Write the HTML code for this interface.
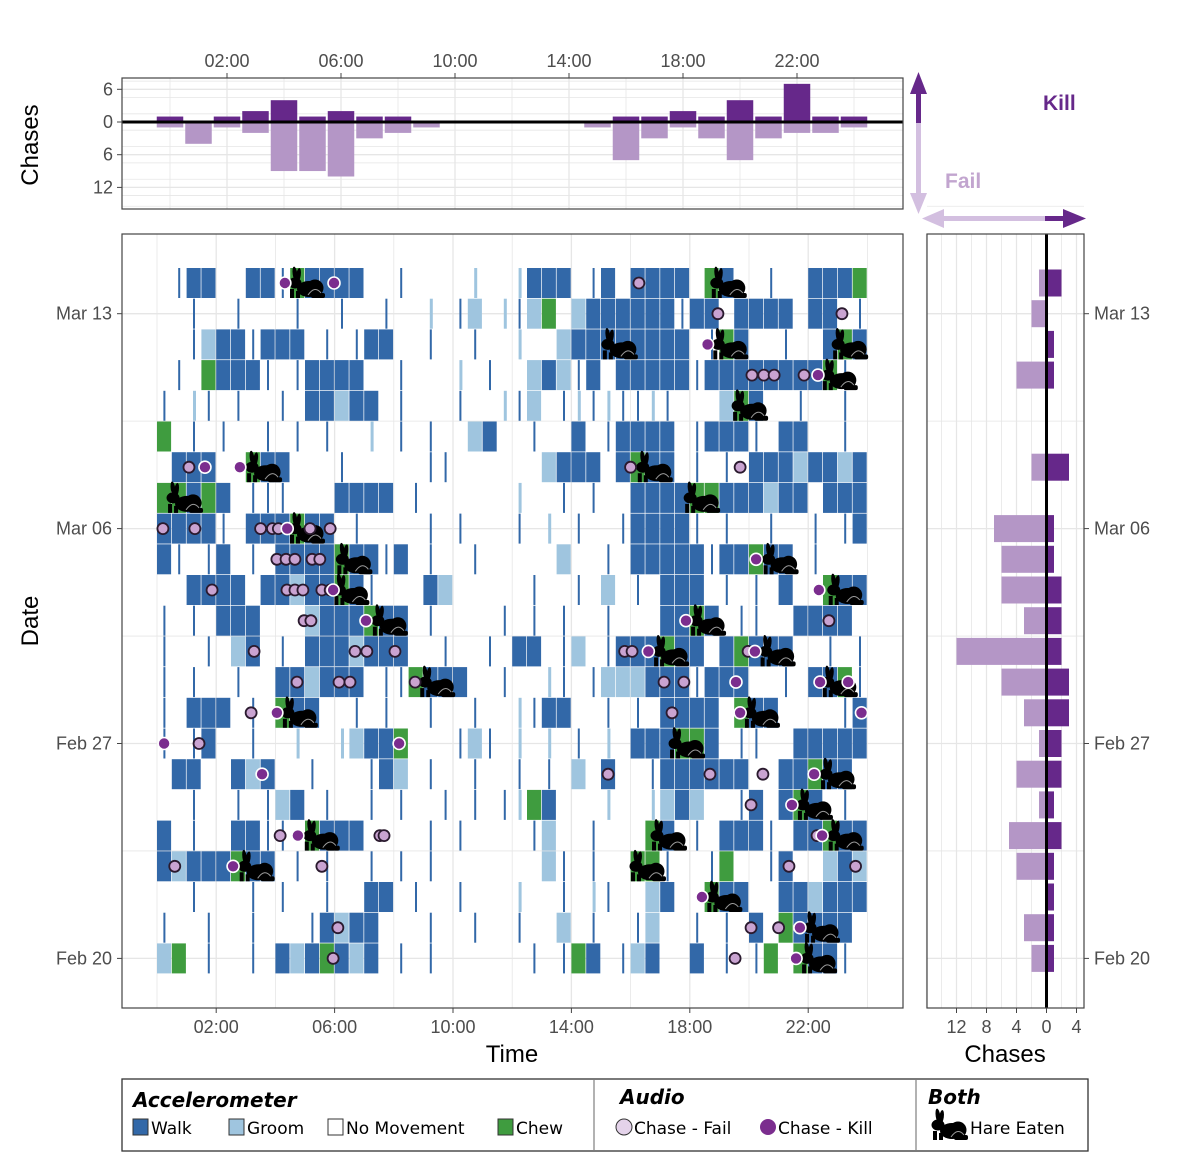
<!DOCTYPE html>
<html><head><meta charset="utf-8">
<style>
body{margin:0;background:#fff;}
svg{display:block;font-family:"Liberation Sans",sans-serif;}
.tk{font-size:18px;fill:#4d4d4d;}
</style></head>
<body>
<svg id="c" width="1200" height="1172" viewBox="0 0 1200 1172" xmlns="http://www.w3.org/2000/svg">
<defs>
<g id="rabbit">
<ellipse cx="4" cy="6" rx="12" ry="8" fill="#000"/>
<circle cx="10" cy="5" r="8.5" fill="#000"/>
<ellipse cx="-10" cy="0" rx="6.5" ry="5.5" fill="#000"/>
<ellipse cx="-10" cy="-9" rx="2.3" ry="7.5" fill="#000" transform="rotate(-8 -10 -9)"/>
<ellipse cx="-6.5" cy="-8" rx="2.3" ry="7" fill="#000" transform="rotate(8 -6.5 -8)"/>
<rect x="-15" y="6" width="4" height="9" fill="#000"/>
<rect x="-9" y="8" width="4" height="7" fill="#000"/>
<rect x="6" y="10" width="14" height="5" rx="2" fill="#000"/>
<path d="M3 12 Q10 2 16 10" stroke="#9a9a9a" stroke-width="1" fill="none"/>
</g>
</defs>
<g id="grid"></g>
<g id="marks"></g>
<g id="overlay"></g>
</svg>
<script>
// ---------- DATA ----------
const dayLabels = ["Mar 13","Mar 06","Feb 27","Feb 20"];
const dayLabelRows = [1,8,15,22];
const hourTicks = [2,6,10,14,18,22];
const hourTickLabels = ["02:00","06:00","10:00","14:00","18:00","22:00"];
// activity per day row (Mar 14 .. Feb 20), 48 half-hour slots: W walk, G groom, C chew, . none, | thin walk, : thin groom
const activity = [
".|WW..WW |CWWWW.. |....:.. :WWW.|W. WWWW.CW. .|..WWWC",
"..|..|.. .|..|..| ..:.|G.: |GC.GWWW WWW|WW.W WWW.WW.|",
"..|GWW|W WW.|.|WW ..|..|.. :..GWWWW WWWW.|CW ..|..WCW",
".|.CWWW| .|WWWW.. |...:.|. .GWG|W.W WWWW|WWW WWWWWC|.",
"|.:|.|.. |.WWGWW. |...|..: |G.|:|:| |:|...GC W..|..|.",
"C.|.|..| .|.|..:. |.|..GW. .|..W.|W WWW.|WWW |.WW..|.",
".WWW..CW W...|... ..||.... ..GWWW.W CWW.|.|. WWWGWWGW",
"CCWCW.|| |...WWWW .|...... :..|.|.. WWWWCCWW WGWW.WWW",
"WWWW|.WW WCWW.|.. ..|.|... |.:.|..| WWWW|.|. .|..|.|W",
"W|.|W.|. WWWWCWW| W.|..|.. ...G..|. WWWWW|WW CWW.|...",
"..WWWW.W WGWWCW|. ..WG.... .|..|.G. |.WWW.|. |.W..CWW",
"|.|.WWW. ..GWWWCW W.|....| .|.|..|. ..WWCW.| |..WWWW.",
"|..|.GW. |.WWWGWW W..|..|. WW.|G.|W WWCWW.WC WWW..|.|",
"|.|..|.. WWGWWW.| |CWWW..| ..:|.|GG GWWW|WWW ..|.WWC|",
"|.WWW.|. CWW..|.| ..|..|.. :|WW..|. |.WWWW.C WW....|W",
"|.|W..|. .:..:GWW C...|G|. :.:.|.:. WWWCCW.| |..WWWWW",
".WW..WGW ..|...|W G.|..|.. |.|.G.W. .|WWWWWW ..WWCWW.",
"..|..|.| GW.|..|. |..|.|.| :CW...:. .:GWG..| W.WCW.|.",
"W.|..WW| |.CWWW.. ..|.|... .|G..|.. .CW.|.WW W|.WWCWW",
"WGWWWCWW .|.|..|. |.|..... ..G|.|.. CC|..|C. .|W..GWG",
"..|...|. |..|..WW .|..|... :..|.:|. .GW..CWW ..WWGWWW",
"|..|..|. ..|WGWW. ..|..|.. |..G.|.. |G..|.|. W.CWWWW.",
"GC.|..|. WGWCWGW. |.|..... .|.|CW.| GW..W.|. |C.CWW|."
];
// top histogram: chases per hour bin (0..24)
const binHours = [0,1,2,3,4,5,6,7,8,9,10,11,12,13,14,15,16,17,18,19,20,21,22,23,24];
const killsByHour = [1,0,1,2,4,1,2,1,1,0,0,0,0,0,0,0,1,1,2,1,4,1,7,1,1];
const failsByHour = [1,4,1,2,9,9,10,3,2,1,0,0,0,0,0,1,7,3,1,3,7,3,2,2,1];
// right histogram: chases per day row (Mar 14 .. Feb 20)
const killsByDay = [2,0,1,1,0,0,3,0,1,1,2,2,2,3,3,2,2,1,2,1,1,1,1];
const failsByDay = [1,2,0,4,0,0,2,0,7,6,6,3,12,6,3,1,4,1,5,4,0,3,2];
const chaseAxisTicks = [-12,-8,-4,0,4];
const chaseAxisLabels = ["12","8","4","0","4"];
const topAxisTicks = [6,0,-6,-12];
const topAxisLabels = ["6","0","6","12"];
// audio events [dayRow, hour]
const failEvents = [[0,16.28],[1,18.95],[1,23.14],[3,20.1],[3,20.5],[3,20.85],[3,21.86],
[6,1.08],[6,16.0],[6,19.7],[8,0.2],[8,1.28],[8,3.5],[8,3.9],[8,4.1],[8,5.17],[8,5.85],
[9,4.05],[9,4.36],[9,4.66],[9,5.24],[9,5.5],[10,1.86],[10,4.39],[10,4.66],[10,4.93],[10,5.57],[10,5.85],
[11,4.97],[11,5.2],[11,22.7],[12,3.28],[12,6.69],[12,7.09],[12,8.04],[12,15.8],[12,16.05],[12,19.97],
[13,4.73],[13,6.15],[13,6.52],[13,8.72],[13,17.13],[13,17.8],[14,3.18],[14,17.4],[15,1.42],
[16,15.24],[16,18.68],[16,20.47],[17,20.07],[18,4.16],[18,7.53],[18,7.67],[18,22.3],
[19,0.6],[19,5.57],[19,21.35],[19,23.6],[21,6.11],[21,20.07],[21,21.0],[22,5.95],[22,19.53]];
const killEvents = [[0,4.32],[0,5.98],[2,18.6],[3,22.33],[6,1.62],[6,2.8],[8,4.4],[9,20.24],[10,5.95],[10,22.36],
[11,7.06],[11,17.87],[12,16.6],[12,20.2],[13,19.56],[13,22.4],[13,23.35],[14,4.05],[14,19.7],[14,23.8],
[15,0.24],[15,8.18],[16,3.55],[16,22.2],[17,21.45],[18,4.76],[18,22.47],[19,2.57],[20,18.41],[21,21.72],[22,21.59]];
const hareEvents = [[0,5.0],[0,19.25],[2,15.57],[2,19.3],[2,23.35],[3,23.0],[4,19.97],[6,3.55],[6,16.75],
[7,0.88],[7,18.35],[8,5.0],[9,6.6],[9,21.0],[10,6.5],[10,23.2],[11,7.8],[11,18.55],[12,17.3],[12,20.9],
[13,9.4],[13,23.0],[14,4.76],[14,20.37],[15,17.84],[16,22.94],[17,22.16],[18,5.5],[18,17.23],[18,23.2],
[19,3.3],[19,16.52],[20,19.1],[21,22.4],[22,22.3]];

// ---------- SCALES ----------
const hourX = h => 157 + h * 29.6;
const rowY = i => 283 + i * 30.7;
const topX = h => 170 + h * 28.5;
const topY = v => 122 - v * 5.45;
const rightX = v => 1046.5 + v * 7.5;
const COL = {W:"#3268a8", G:"#9fc5df", C:"#3f9c3f"};
const KILL = "#66288a", FAILBAR = "#b496c6";

const NS = "http://www.w3.org/2000/svg";
const svg = document.getElementById("c");
const gGrid = document.getElementById("grid");
const gMarks = document.getElementById("marks");
const gOver = document.getElementById("overlay");
function mk(tag, attrs, parent, txt){
  const e = document.createElementNS(NS, tag);
  for (const k in attrs) e.setAttribute(k, attrs[k]);
  if (txt !== undefined) e.textContent = txt;
  (parent || svg).appendChild(e);
  return e;
}
let e;

// ---------- PANELS ----------
e = mk("rect",{x:122,y:78,width:781,height:131,fill:"#fff"},gGrid);


e = mk("rect",{x:122,y:234,width:781,height:774,fill:"#fff"},gGrid);


e = mk("rect",{x:927,y:234,width:157,height:774,fill:"#fff"},gGrid);



// grid lines
const GC = "#e6e6e6";
for (let h = 0; h <= 24; h += 2) {
  mk("line",{x1:hourX(h),x2:hourX(h),y1:234,y2:1008,stroke:GC,"stroke-width":h%4==2?1.3:0.8},gGrid);
  mk("line",{x1:topX(h),x2:topX(h),y1:78,y2:209,stroke:GC,"stroke-width":h%4==2?1.3:0.8},gGrid);
}
for (let v = 7.5; v >= -15; v -= 3) mk("line",{x1:122,x2:903,y1:topY(v),y2:topY(v),stroke:GC,"stroke-width":0.8},gGrid);
for (let v = 6; v >= -12; v -= 6) mk("line",{x1:122,x2:903,y1:topY(v),y2:topY(v),stroke:GC,"stroke-width":1.3},gGrid);
for (let i = -2.5; i <= 23; i += 3.5) {
  mk("line",{x1:122,x2:903,y1:rowY(i),y2:rowY(i),stroke:GC,"stroke-width":0.8},gGrid);
  mk("line",{x1:927,x2:1084,y1:rowY(i),y2:rowY(i),stroke:GC,"stroke-width":0.8},gGrid);
}
dayLabelRows.forEach(r => {
  mk("line",{x1:122,x2:903,y1:rowY(r),y2:rowY(r),stroke:GC,"stroke-width":1.3},gGrid);
  mk("line",{x1:927,x2:1084,y1:rowY(r),y2:rowY(r),stroke:GC,"stroke-width":1.3},gGrid);
});
for (let v = -16; v <= 4; v += 2) mk("line",{x1:rightX(v),x2:rightX(v),y1:234,y2:1008,stroke:GC,"stroke-width":v%4==0?1.3:0.8},gGrid);

// ---------- ACTIVITY ----------
const SW = 29.6 / 2;
activity.forEach((str, i) => {
  const s = str.replace(/ /g, "");
  const yc = rowY(i);
  for (let k = 0; k < s.length && k < 48; k++) {
    const c = s[k];
    const x0 = hourX(k / 2);
    if (c === "W" || c === "G" || c === "C") {
      e = mk("rect",{x:x0,y:yc-15,width:SW-0.7,height:30,fill:COL[c]},gMarks);
      
      
    } else if (c === "|" || c === ":") {
      e = mk("rect",{x:x0+SW/2-1,y:yc-15,width:c==="|"?2:3,height:30,fill:c==="|"?COL.W:COL.G},gMarks);
      
      
    }
  }
});

// hares
hareEvents.forEach(([r,h]) => {
  e = mk("use",{href:"#rabbit",x:hourX(h),y:rowY(r)},gMarks);
  
  
});
// chase dots
failEvents.forEach(([r,h]) => {
  e = mk("circle",{cx:hourX(h),cy:rowY(r),r:5.5,fill:"#c9a3d1",stroke:"#2a1a2e","stroke-width":1.8},gMarks);
  
  
});
killEvents.forEach(([r,h]) => {
  e = mk("circle",{cx:hourX(h),cy:rowY(r),r:6,fill:"#7b2d8e",stroke:"#fff","stroke-width":1.6},gMarks);
  
  
});

// ---------- TOP HISTOGRAM ----------
binHours.forEach((h, i) => {
  const bw = 26.5, x = topX(h) - bw/2;
  if (killsByHour[i] > 0) {
    e = mk("rect",{x:x,y:topY(killsByHour[i]),width:bw,height:topY(0)-topY(killsByHour[i]),fill:KILL},gMarks);
    
    
  }
  if (failsByHour[i] > 0) {
    e = mk("rect",{x:x,y:topY(0),width:bw,height:topY(-failsByHour[i])-topY(0),fill:FAILBAR},gMarks);
    
    
  }
});
e = mk("line",{x1:122,x2:903,y1:topY(0),y2:topY(0),stroke:"#000","stroke-width":3},gMarks);



// ---------- RIGHT HISTOGRAM ----------
killsByDay.forEach((v, i) => {
  const yc = rowY(i);
  if (v > 0) {
    e = mk("rect",{x:rightX(0),y:yc-13.5,width:rightX(v)-rightX(0),height:27,fill:KILL},gMarks);
    
    
  }
  if (failsByDay[i] > 0) {
    e = mk("rect",{x:rightX(-failsByDay[i]),y:yc-13.5,width:rightX(0)-rightX(-failsByDay[i]),height:27,fill:FAILBAR},gMarks);
    
    
  }
});
e = mk("line",{x1:rightX(0),x2:rightX(0),y1:234,y2:1008,stroke:"#000","stroke-width":3},gMarks);



// ---------- AXES ----------
[[122,78,781,131],[122,234,781,774],[927,234,157,774]].forEach(b => {
  mk("rect",{x:b[0],y:b[1],width:b[2],height:b[3],fill:"none",stroke:"#444","stroke-width":1.2},gOver);
});
hourTicks.forEach((h,i) => {
  mk("line",{x1:topX(h),x2:topX(h),y1:73,y2:78,stroke:"#444"},gOver);
  e = mk("text",{x:topX(h),y:67,"text-anchor":"middle",class:"tk"},gOver,hourTickLabels[i]);
  
  
  mk("line",{x1:hourX(h),x2:hourX(h),y1:1008,y2:1013,stroke:"#444"},gOver);
  e = mk("text",{x:hourX(h),y:1033,"text-anchor":"middle",class:"tk"},gOver,hourTickLabels[i]);
  
  
});
topAxisTicks.forEach((v,i) => {
  mk("line",{x1:117,x2:122,y1:topY(v),y2:topY(v),stroke:"#444"},gOver);
  e = mk("text",{x:113,y:topY(v)+6,"text-anchor":"end",class:"tk"},gOver,topAxisLabels[i]);
  
  
});
dayLabelRows.forEach((r,i) => {
  mk("line",{x1:117,x2:122,y1:rowY(r),y2:rowY(r),stroke:"#444"},gOver);
  e = mk("text",{x:112,y:rowY(r)+6,"text-anchor":"end",class:"tk"},gOver,dayLabels[i]);
  
  
  mk("line",{x1:1084,x2:1089,y1:rowY(r),y2:rowY(r),stroke:"#444"},gOver);
  e = mk("text",{x:1094,y:rowY(r)+6,"text-anchor":"start",class:"tk"},gOver,dayLabels[i]);
  
  
});
chaseAxisTicks.forEach((v,i) => {
  mk("line",{x1:rightX(v),x2:rightX(v),y1:1008,y2:1013,stroke:"#444"},gOver);
  e = mk("text",{x:rightX(v),y:1033,"text-anchor":"middle",class:"tk"},gOver,chaseAxisLabels[i]);
  
  
});
</script>
<script>
// static titles and legend
(function(){
const NS="http://www.w3.org/2000/svg", svg=document.getElementById("c");
function t(x,y,s,txt,extra){const e=document.createElementNS(NS,"text");e.setAttribute("x",x);e.setAttribute("y",y);e.setAttribute("font-size",s);e.setAttribute("fill","#000");for(const k in (extra||{}))e.setAttribute(k,extra[k]);e.textContent=txt;svg.appendChild(e);return e;}
let e;
e=t(0,0,24,"Chases",{transform:"translate(38 145) rotate(-90)","text-anchor":"middle"});


e=t(0,0,24,"Date",{transform:"translate(38 621) rotate(-90)","text-anchor":"middle"});


e=t(512,1062,24,"Time",{"text-anchor":"middle"});


e=t(1005,1062,24,"Chases",{"text-anchor":"middle"});


e=t(1043,110,21,"Kill",{"font-weight":"bold",fill:"#66288a"});


e=t(945,188,21,"Fail",{"font-weight":"bold",fill:"#c2a5cf"});


})();
</script>
<script>
(function(){
const NS="http://www.w3.org/2000/svg", svg=document.getElementById("c");
function m(tag,a){const e=document.createElementNS(NS,tag);for(const k in a)e.setAttribute(k,a[k]);svg.appendChild(e);return e;}
let e;
// arrows
e=m("g",{});


m("rect",{x:916,y:90,width:5,height:33,fill:"#66288a"});
m("polygon",{points:"910,94 918.5,72 927,94",fill:"#66288a"});
m("rect",{x:916,y:123,width:5,height:74,fill:"#d3bfe0"});
m("polygon",{points:"910,193 918.5,214 927,193",fill:"#d3bfe0"});
m("rect",{x:940,y:216,width:105,height:5,fill:"#d3bfe0"});
m("polygon",{points:"944,209 922,218.5 944,228",fill:"#d3bfe0"});
m("rect",{x:1045,y:216,width:20,height:5,fill:"#66288a"});
m("polygon",{points:"1063,209 1086,218.5 1063,228",fill:"#66288a"});
// legend
e=m("rect",{x:122,y:1079,width:966,height:72,fill:"#fff",stroke:"#333","stroke-width":1.3});


m("line",{x1:594,x2:594,y1:1080,y2:1150,stroke:"#666"});
m("line",{x1:916,x2:916,y1:1080,y2:1150,stroke:"#666"});
function t(x,y,txt,a){const e=document.createElementNS(NS,"text");e.setAttribute("x",x);e.setAttribute("y",y);e.setAttribute("font-family","'DejaVu Sans',sans-serif");e.setAttribute("font-size",a&&a.fs||17);for(const k in (a||{}))if(k!=="fs")e.setAttribute(k,a[k]);e.textContent=txt;svg.appendChild(e);return e;}
e=t(133,1107,"Accelerometer",{"font-weight":"bold","font-style":"italic",fs:20});


e=t(620,1104,"Audio",{"font-weight":"bold","font-style":"italic",fs:20});


e=t(928,1104,"Both",{"font-weight":"bold","font-style":"italic",fs:20});


const items=[[133,"#3268a8","Walk"],[229,"#9fc5df","Groom"],[328,"#fff","No Movement"],[498,"#3f9c3f","Chew"]];
items.forEach(([x,c,l])=>{
 const r=m("rect",{x:x,y:1119,width:15,height:16,fill:c,stroke:"#333","stroke-width":1});
 
 
 const tx=t(x+18,1134,l,{fill:"#000"});
 
 
});
e=m("circle",{cx:624,cy:1127,r:8,fill:"#e4d3ea",stroke:"#333","stroke-width":1});


e=t(634,1134,"Chase - Fail",{fill:"#000"});


e=m("circle",{cx:768,cy:1127,r:8,fill:"#7b2d8e"});


e=t(778,1134,"Chase - Kill",{fill:"#000"});


e=m("use",{href:"#rabbit",x:948,y:1125});


e=t(970,1134,"Hare Eaten",{fill:"#000"});


})();
</script>
</body></html>
